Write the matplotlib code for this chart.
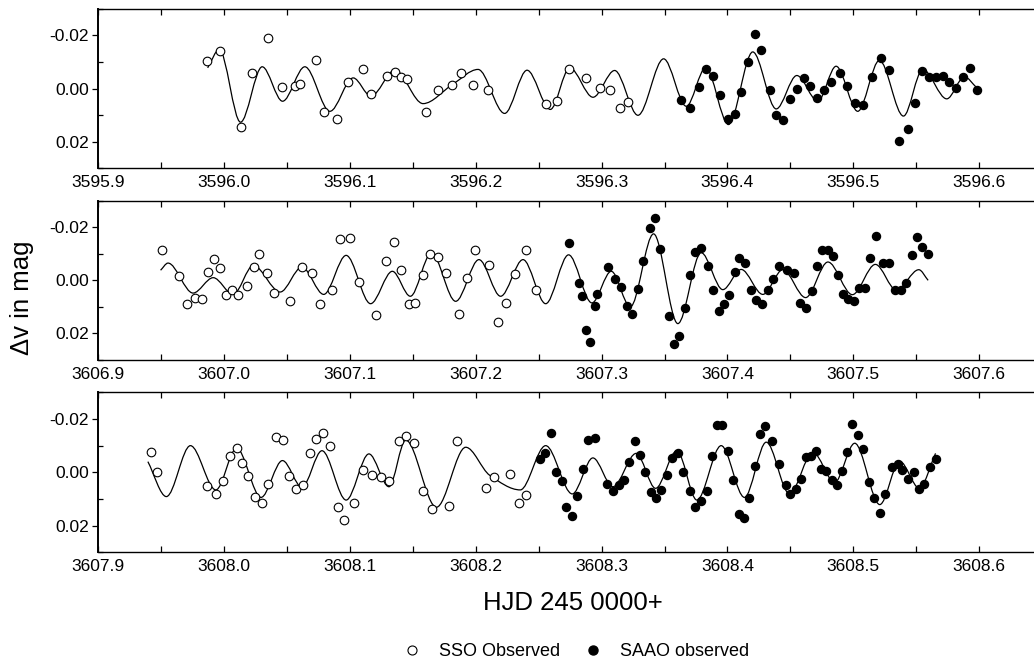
import matplotlib
matplotlib.use("Agg")
import matplotlib.pyplot as plt
from matplotlib.path import Path
from matplotlib.patches import PathPatch
from matplotlib.lines import Line2D
from matplotlib.ticker import MultipleLocator, FixedLocator, FixedFormatter

plt.rcParams["font.family"] = ["Liberation Sans", "DejaVu Sans"]
plt.rcParams["axes.unicode_minus"] = False

# ---- Night 1 (HJD 2453595.9 ...) ----
sso1_t = [3595.9868, 3595.9968, 3596.0132, 3596.0225, 3596.0347, 3596.0458, 3596.0561, 3596.0601,
          3596.0728, 3596.0797, 3596.0895, 3596.0988, 3596.1101, 3596.1168, 3596.1292, 3596.1358,
          3596.1406, 3596.1451, 3596.1608, 3596.1701, 3596.1815, 3596.1886, 3596.1979, 3596.2098,
          3596.2561, 3596.2649, 3596.2744, 3596.2874, 3596.2985, 3596.3064, 3596.3144, 3596.3210]
sso1_m = [-0.0102, -0.0142, 0.0146, -0.0060, -0.0191, -0.0005, -0.0009, -0.0018,
          -0.0108, 0.0087, 0.0116, -0.0026, -0.0073, 0.0021, -0.0047, -0.0062,
          -0.0044, -0.0036, 0.0087, 0.0004, -0.0013, -0.0059, -0.0013, 0.0005,
          0.0060, 0.0048, -0.0074, -0.0038, -0.0003, 0.0005, 0.0073, 0.0052]
saao1_t = [3596.3634, 3596.3700, 3596.3774, 3596.3827, 3596.3885, 3596.3944, 3596.4003, 3596.4056,
           3596.4109, 3596.4162, 3596.4217, 3596.4270, 3596.4339, 3596.4387, 3596.4445, 3596.4498,
           3596.4551, 3596.4606, 3596.4659, 3596.4712, 3596.4770, 3596.4826, 3596.4890, 3596.4950,
           3596.5011, 3596.5075, 3596.5146, 3596.5218, 3596.5287, 3596.5366, 3596.5435, 3596.5491,
           3596.5546, 3596.5597, 3596.5657, 3596.5710, 3596.5763, 3596.5816, 3596.5869, 3596.5930,
           3596.5980]
saao1_m = [0.0042, 0.0074, -0.0005, -0.0072, -0.0049, 0.0023, 0.0114, 0.0096,
           0.0015, -0.0099, -0.0206, -0.0145, 0.0004, 0.0101, 0.0117, 0.0038,
           0.0001, -0.0040, -0.0009, 0.0035, 0.0004, -0.0024, -0.0059, -0.0009,
           0.0054, 0.0063, -0.0043, -0.0116, -0.0070, 0.0199, 0.0152, 0.0055,
           -0.0065, -0.0045, -0.0043, -0.0047, -0.0026, -0.0001, -0.0044, -0.0077,
           0.0006]
# fitted curve, read at its turning points
fit1_t = [3595.9871, 3595.9963, 3596.0132, 3596.0304, 3596.0466, 3596.0643, 3596.0842, 3596.1027,
          3596.1168, 3596.1358, 3596.1582, 3596.1815, 3596.2019, 3596.2230, 3596.2408, 3596.2593,
          3596.2747, 3596.2932, 3596.3104, 3596.3289, 3596.3493, 3596.3673, 3596.3827, 3596.4008,
          3596.4201, 3596.4387, 3596.4551, 3596.4718, 3596.4863, 3596.5035, 3596.5207, 3596.5398,
          3596.5551, 3596.5742, 3596.5882, 3596.5980]
fit1_m = [-0.0078, -0.0147, 0.0127, -0.0082, 0.0048, -0.0082, 0.0086, -0.0040,
          0.0029, -0.0069, 0.0057, -0.0015, -0.0072, 0.0094, -0.0069, 0.0079,
          -0.0078, 0.0033, -0.0068, 0.0101, -0.0112, 0.0067, -0.0078, 0.0136,
          -0.0138, 0.0077, -0.0049, 0.0048, -0.0084, 0.0086, -0.0106, 0.0104,
          -0.0072, 0.0039, -0.0044, -0.0003]

# ---- Night 2 ----
sso2_t = [3606.9508, 3606.9646, 3606.9707, 3606.9774, 3606.9822, 3606.9870, 3606.9918, 3606.9968,
          3607.0013, 3607.0066, 3607.0114, 3607.0186, 3607.0239, 3607.0282, 3607.0340, 3607.0394,
          3607.0527, 3607.0620, 3607.0699, 3607.0766, 3607.0862, 3607.0926, 3607.1005, 3607.1072,
          3607.1210, 3607.1285, 3607.1351, 3607.1405, 3607.1468, 3607.1521, 3607.1582, 3607.1640,
          3607.1701, 3607.1767, 3607.1868, 3607.1934, 3607.1997, 3607.2103, 3607.2177, 3607.2243,
          3607.2310, 3607.2402, 3607.2476]
sso2_m = [-0.0115, -0.0016, 0.0089, 0.0065, 0.0071, -0.0031, -0.0081, -0.0045,
          0.0056, 0.0037, 0.0056, 0.0021, -0.0050, -0.0100, -0.0028, 0.0046,
          0.0078, -0.0050, -0.0028, 0.0088, 0.0037, -0.0156, -0.0159, 0.0006,
          0.0129, -0.0071, -0.0144, -0.0040, 0.0088, 0.0084, -0.0021, -0.0098,
          -0.0088, -0.0028, 0.0125, -0.0010, -0.0113, -0.0059, 0.0156, 0.0085,
          -0.0023, -0.0113, 0.0037]
saao2_t = [3607.2738, 3607.2817, 3607.2847, 3607.2878, 3607.2905, 3607.2944, 3607.2963, 3607.3053,
           3607.3103, 3607.3153, 3607.3201, 3607.3243, 3607.3291, 3607.3333, 3607.3381, 3607.3421,
           3607.3466, 3607.3534, 3607.3574, 3607.3619, 3607.3659, 3607.3706, 3607.3746, 3607.3791,
           3607.3844, 3607.3889, 3607.3931, 3607.3971, 3607.4016, 3607.4056, 3607.4095, 3607.4143,
           3607.4183, 3607.4228, 3607.4273, 3607.4321, 3607.4361, 3607.4406, 3607.4475, 3607.4525,
           3607.4578, 3607.4626, 3607.4674, 3607.4714, 3607.4753, 3607.4798, 3607.4838, 3607.4878,
           3607.4918, 3607.4958, 3607.5003, 3607.5045, 3607.5090, 3607.5130, 3607.5183, 3607.5236,
           3607.5284, 3607.5329, 3607.5377, 3607.5416, 3607.5462, 3607.5507, 3607.5549, 3607.5594]
saao2_m = [-0.0141, 0.0009, 0.0060, 0.0188, 0.0231, 0.0096, 0.0053, -0.0050,
           -0.0006, 0.0025, 0.0098, 0.0128, 0.0034, -0.0073, -0.0198, -0.0235,
           -0.0119, 0.0133, 0.0240, 0.0210, 0.0106, -0.0021, -0.0106, -0.0121,
           -0.0054, 0.0037, 0.0115, 0.0088, 0.0054, -0.0031, -0.0084, -0.0065,
           0.0035, 0.0075, 0.0088, 0.0037, -0.0006, -0.0053, -0.0040, -0.0028,
           0.0084, 0.0104, 0.0039, -0.0053, -0.0113, -0.0113, -0.0090, -0.0019,
           0.0053, 0.0069, 0.0078, 0.0029, 0.0029, -0.0085, -0.0166, -0.0065,
           -0.0065, 0.0037, 0.0037, 0.0010, -0.0094, -0.0165, -0.0125, -0.0100]
fit2_t = [3606.9497, 3606.9556, 3606.9755, 3606.9915, 3607.0074, 3607.0234, 3607.0447, 3607.0620,
          3607.0793, 3607.0971, 3607.1165, 3607.1338, 3607.1481, 3607.1648, 3607.1841, 3607.2026,
          3607.2198, 3607.2376, 3607.2556, 3607.2738, 3607.2923, 3607.3077, 3607.3228, 3607.3413,
          3607.3606, 3607.3791, 3607.3963, 3607.4109, 3607.4281, 3607.4440, 3607.4621, 3607.4798,
          3607.4992, 3607.5175, 3607.5342, 3607.5520, 3607.5594]
fit2_m = [-0.0038, -0.0065, 0.0048, -0.0010, 0.0053, -0.0056, 0.0044, -0.0050,
          0.0053, -0.0094, 0.0088, -0.0034, 0.0060, -0.0103, 0.0079, -0.0078,
          0.0060, -0.0078, 0.0088, -0.0096, 0.0085, -0.0034, 0.0100, -0.0175,
          0.0163, -0.0104, 0.0035, -0.0041, 0.0053, -0.0040, 0.0065, -0.0069,
          0.0054, -0.0060, 0.0037, -0.0040, 0.0000]

# ---- Night 3 ----
sso3_t = [3607.9418, 3607.9471, 3607.9862, 3607.9941, 3607.9995, 3608.0048, 3608.0101, 3608.0146,
          3608.0194, 3608.0247, 3608.0301, 3608.0348, 3608.0412, 3608.0468, 3608.0521, 3608.0572,
          3608.0628, 3608.0681, 3608.0734, 3608.0787, 3608.0846, 3608.0904, 3608.0957, 3608.1037,
          3608.1104, 3608.1173, 3608.1245, 3608.1311, 3608.1389, 3608.1450, 3608.1511, 3608.1582,
          3608.1656, 3608.1788, 3608.1852, 3608.2079, 3608.2146, 3608.2275, 3608.2344, 3608.2402]
sso3_m = [-0.0078, 0.0000, 0.0050, 0.0081, 0.0031, -0.0063, -0.0090, -0.0034,
          0.0013, 0.0094, 0.0116, 0.0044, -0.0131, -0.0121, 0.0013, 0.0063,
          0.0046, -0.0071, -0.0125, -0.0146, -0.0098, 0.0131, 0.0179, 0.0115,
          -0.0009, 0.0009, 0.0019, 0.0034, -0.0116, -0.0138, -0.0110, 0.0069,
          0.0138, 0.0125, -0.0119, 0.0059, 0.0016, 0.0006, 0.0116, 0.0085]
saao3_t = [3608.2508, 3608.2548, 3608.2595, 3608.2640, 3608.2683, 3608.2720, 3608.2762, 3608.2807,
           3608.2852, 3608.2894, 3608.2944, 3608.3045, 3608.3093, 3608.3138, 3608.3177, 3608.3217,
           3608.3262, 3608.3307, 3608.3347, 3608.3389, 3608.3434, 3608.3476, 3608.3521, 3608.3561,
           3608.3606, 3608.3648, 3608.3706, 3608.3746, 3608.3791, 3608.3836, 3608.3876, 3608.3918,
           3608.3958, 3608.4003, 3608.4042, 3608.4090, 3608.4130, 3608.4170, 3608.4215, 3608.4260,
           3608.4300, 3608.4355, 3608.4406, 3608.4462, 3608.4499, 3608.4541, 3608.4586, 3608.4621,
           3608.4666, 3608.4706, 3608.4745, 3608.4785, 3608.4830, 3608.4873, 3608.4912, 3608.4952,
           3608.4992, 3608.5037, 3608.5077, 3608.5122, 3608.5162, 3608.5210, 3608.5255, 3608.5310,
           3608.5355, 3608.5390, 3608.5435, 3608.5480, 3608.5523, 3608.5562, 3608.5607, 3608.5653]
saao3_m = [-0.0050, -0.0071, -0.0148, -0.0003, 0.0034, 0.0131, 0.0163, 0.0089,
           -0.0013, -0.0121, -0.0129, 0.0044, 0.0069, 0.0048, 0.0029, -0.0040,
           -0.0116, -0.0066, -0.0003, 0.0075, 0.0098, 0.0065, 0.0010, -0.0053,
           -0.0073, 0.0000, 0.0071, 0.0131, 0.0106, 0.0069, -0.0060, -0.0178,
           -0.0179, -0.0079, 0.0029, 0.0156, 0.0171, 0.0096, -0.0025, -0.0144,
           -0.0175, -0.0119, -0.0031, 0.0048, 0.0081, 0.0063, 0.0025, -0.0056,
           -0.0063, -0.0081, -0.0013, -0.0006, 0.0029, 0.0046, -0.0006, -0.0078,
           -0.0181, -0.0141, -0.0088, 0.0035, 0.0096, 0.0153, 0.0081, -0.0019,
           -0.0031, -0.0009, 0.0025, -0.0003, 0.0063, 0.0044, -0.0019, -0.0050]
fit3_t = [3607.9396, 3607.9543, 3607.9734, 3607.9936, 3608.0101, 3608.0295, 3608.0465, 3608.0620,
          3608.0779, 3608.0971, 3608.1152, 3608.1311, 3608.1444, 3608.1688, 3608.1921, 3608.2111,
          3608.2354, 3608.2556, 3608.2767, 3608.2931, 3608.3090, 3608.3275, 3608.3429, 3608.3598,
          3608.3757, 3608.3950, 3608.4135, 3608.4308, 3608.4493, 3608.4679, 3608.4851, 3608.5011,
          3608.5210, 3608.5369, 3608.5523, 3608.5653]
fit3_m = [-0.0040, 0.0091, -0.0100, 0.0066, -0.0090, 0.0094, -0.0044, 0.0056,
          -0.0081, 0.0104, -0.0069, 0.0054, -0.0121, 0.0131, -0.0094, 0.0011,
          0.0066, -0.0100, 0.0081, -0.0054, 0.0054, -0.0071, 0.0060, -0.0081,
          0.0104, -0.0100, 0.0094, -0.0113, 0.0081, -0.0075, 0.0038, -0.0109,
          0.0121, -0.0041, 0.0059, -0.0071]

x_starts = [3595.9, 3606.9, 3607.9]
y_ticks = [-0.02, 0.00, 0.02]
y_tick_labels = ["-0.02", "0.00", "0.02"]


def smooth_path(ts, ms):
    # cubic bezier through the turning points, flat at peaks/troughs
    n = len(ts)
    sec = [(ms[i + 1] - ms[i]) / (ts[i + 1] - ts[i]) for i in range(n - 1)]
    slope = [sec[0]]
    for i in range(1, n - 1):
        a, b = sec[i - 1], sec[i]
        slope.append(0.0 if a * b <= 0 else 2.0 / (1.0 / a + 1.0 / b))
    slope.append(sec[-1])
    verts = [(ts[0], ms[0])]
    codes = [Path.MOVETO]
    for i in range(n - 1):
        h = (ts[i + 1] - ts[i]) / 3.0
        verts += [(ts[i] + h, ms[i] + h * slope[i]),
                  (ts[i + 1] - h, ms[i + 1] - h * slope[i + 1]),
                  (ts[i + 1], ms[i + 1])]
        codes += [Path.CURVE4] * 3
    return Path(verts, codes)


def main():
    fig = plt.figure(figsize=(10.34, 6.61), dpi=100)

    panels = [
        (sso1_t, sso1_m, saao1_t, saao1_m, fit1_t, fit1_m),
        (sso2_t, sso2_m, saao2_t, saao2_m, fit2_t, fit2_m),
        (sso3_t, sso3_m, saao3_t, saao3_m, fit3_t, fit3_m),
    ]
    # [left, bottom, width, height] in figure fractions
    boxes = [
        [0.0948, 0.7458, 0.9052, 0.2406],
        [0.0948, 0.4554, 0.9052, 0.2410],
        [0.0948, 0.1644, 0.9052, 0.2421],
    ]

    for (st, sm, at, am, ft, fm), box, x0 in zip(panels, boxes, x_starts):
        ax = fig.add_axes(box)
        ax.add_patch(PathPatch(smooth_path(ft, fm), fill=False,
                               edgecolor="black", lw=0.9, zorder=2))
        ax.plot(st, sm, "o", ms=6.2, mfc="white", mec="black", mew=0.8, zorder=3)
        ax.plot(at, am, "o", ms=5.8, color="black", zorder=3)

        ax.set_xlim(x0, x0 + 0.7435)
        ax.set_ylim(0.03, -0.03)

        major = [round(x0 + 0.1 * i, 1) for i in range(8)]
        ax.xaxis.set_major_locator(FixedLocator(major))
        ax.xaxis.set_major_formatter(FixedFormatter([f"{v:.1f}" for v in major]))
        ax.xaxis.set_minor_locator(MultipleLocator(0.05))
        ax.yaxis.set_major_locator(FixedLocator(y_ticks))
        ax.yaxis.set_major_formatter(FixedFormatter(y_tick_labels))
        ax.yaxis.set_minor_locator(MultipleLocator(0.01))

        ax.tick_params(axis="x", which="both", direction="in", top=True,
                       length=4.5, width=0.9, labelsize=12.5, pad=5)
        ax.tick_params(axis="y", which="major", direction="out",
                       length=4.5, width=0.9, labelsize=12.5, pad=2)
        ax.tick_params(axis="y", which="minor", direction="in",
                       length=3.5, width=0.9)
        ax.spines["right"].set_visible(False)
        for side in ["left", "top", "bottom"]:
            ax.spines[side].set_linewidth(1.0)
        ax.spines["left"].set_linewidth(1.4)

    fig.text(573 / 1034, 1 - 603 / 661, "HJD 245 0000+", ha="center", va="center",
             fontsize=18.5)
    fig.text(22 / 1034, 1 - 298 / 661, "\u0394v in mag", rotation=90,
             ha="center", va="center", fontsize=18.5)

    handles = [
        Line2D([], [], ls="none", marker="o", ms=6.5, mfc="white", mec="black", mew=0.8),
        Line2D([], [], ls="none", marker="o", ms=6.5, color="black"),
    ]
    fig.legend(handles, ["SSO Observed", "SAAO observed"], loc="center",
               bbox_to_anchor=(576 / 1034, 1 - 652 / 661), ncol=2, frameon=False,
               fontsize=13, handlelength=1.0, handletextpad=1.0, columnspacing=1.3)

    fig.savefig("out.png", dpi=100)


if __name__ == "__main__":
    main()
